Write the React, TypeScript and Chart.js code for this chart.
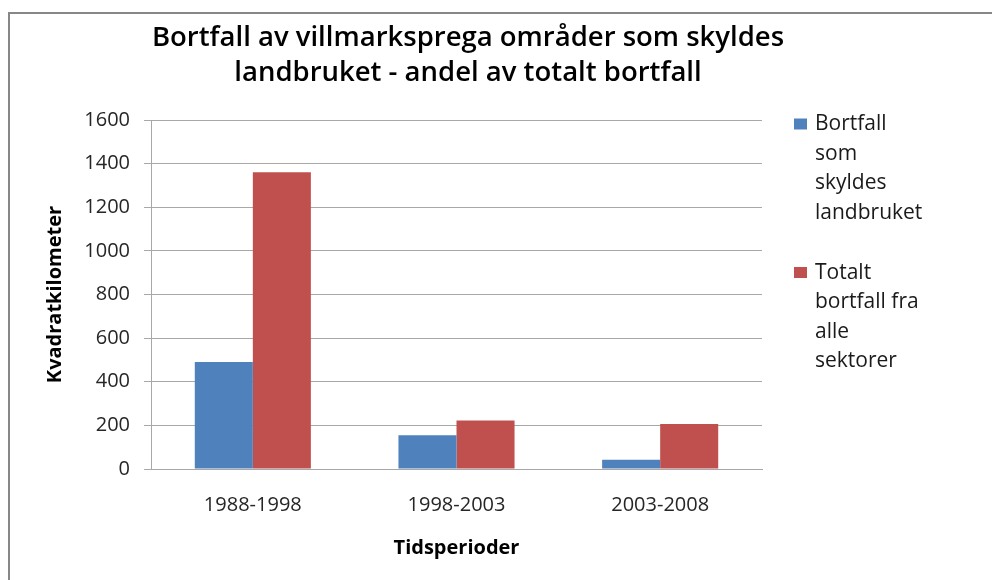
import React, { useEffect, useRef } from "react";
import { Chart, registerables } from "chart.js";

Chart.register(...registerables);

const titleLines = [
  "Bortfall av villmarksprega områder som skyldes",
  "landbruket - andel av totalt bortfall",
];
const categories = ["1988-1998", "1998-2003", "2003-2008"];
const seriesNames = [
  "Bortfall som skyldes landbruket",
  "Totalt bortfall fra alle sektorer",
];
const legendLines = [
  ["Bortfall", "som", "skyldes", "landbruket"],
  ["Totalt", "bortfall fra", "alle", "sektorer"],
];
const landbruket = [490, 155, 42];
const totalt = [1360, 222, 206];
const yMin = 0;
const yMax = 1600;
const yStep = 200;
const yAxisTitle = "Kvadratkilometer";
const xAxisTitle = "Tidsperioder";
const colors = ["#4F81BD", "#C0504D"];

const FONT = "'Open Sans', 'Noto Sans', sans-serif";

const decorPlugin = {
  id: "decor",
  afterDraw(chart: any) {
    const ctx = chart.ctx;
    ctx.save();
    ctx.fillStyle = "#000";
    ctx.textAlign = "center";
    ctx.textBaseline = "middle";
    ctx.font = `600 27.5px ${FONT}`;
    titleLines.forEach((line, i) => {
      ctx.fillText(line, 468, 38 + i * 35);
    });
    ctx.textAlign = "left";
    ctx.font = `21px ${FONT}`;
    chart.data.datasets.forEach((ds: any, i: number) => {
      const top = 124.5 + i * 148.5;
      ctx.fillStyle = ds.backgroundColor;
      ctx.fillRect(794, top - 6, 13, 11);
      ctx.fillStyle = "#1a1a1a";
      legendLines[i].forEach((l, j) => {
        ctx.fillText(l, 815, top + j * 29.5);
      });
    });
    ctx.restore();
  },
};

export default function App() {
  const ref = useRef<HTMLCanvasElement | null>(null);
  useEffect(() => {
    if (!ref.current) return;
    const chart = new Chart(ref.current, {
      type: "bar",
      data: {
        labels: categories,
        datasets: [
          {
            label: seriesNames[0],
            data: landbruket,
            backgroundColor: colors[0],
            categoryPercentage: 0.57,
            barPercentage: 1.0,
          },
          {
            label: seriesNames[1],
            data: totalt,
            backgroundColor: colors[1],
            categoryPercentage: 0.57,
            barPercentage: 1.0,
          },
        ],
      },
      options: {
        animation: false,
        responsive: false,
        devicePixelRatio: 1,
        layout: { padding: { left: 0, top: 120, right: 230, bottom: 0 } },
        plugins: {
          legend: { display: false },
          title: { display: false },
          tooltip: { enabled: false },
        },
        scales: {
          x: {
            grid: { display: false, drawTicks: false },
            border: { display: true, color: "#a8a8a8" },
            ticks: {
              padding: 24,
              color: "#262626",
              font: { family: FONT, size: 20 },
            },
            title: {
              display: true,
              text: xAxisTitle,
              color: "#000",
              font: { family: FONT, size: 20, weight: "bold" },
              padding: { top: 0, bottom: 20 },
            },
            afterFit: (s: any) => {
              s.height = 111;
            },
          },
          y: {
            min: yMin,
            max: yMax,
            grid: { color: "#a8a8a8", tickLength: 7, lineWidth: 1 },
            border: { display: true, color: "#a8a8a8" },
            ticks: {
              stepSize: yStep,
              padding: 14,
              color: "#262626",
              font: { family: FONT, size: 20 },
              callback: (v: any) => String(v),
            },
            title: {
              display: true,
              text: yAxisTitle,
              color: "#000",
              font: { family: FONT, size: 20, weight: "bold" },
              padding: { top: 43, bottom: 0 },
            },
            afterFit: (s: any) => {
              s.width = 151;
            },
          },
        },
      },
      plugins: [decorPlugin],
    });
    return () => chart.destroy();
  }, []);

  return (
    <div
      style={{
        position: "fixed",
        left: 0,
        top: 0,
        width: 992,
        height: 580,
        background: "#fff",
        overflow: "hidden",
      }}
    >
      <div
        style={{
          position: "absolute",
          left: 8,
          top: 12,
          width: 1000,
          height: 600,
          borderTop: "2px solid #878787",
          borderLeft: "2px solid #878787",
        }}
      />
      <canvas
        ref={ref}
        width={992}
        height={580}
        style={{ position: "absolute", left: 0, top: 0, display: "block" }}
      />
    </div>
  );
}
